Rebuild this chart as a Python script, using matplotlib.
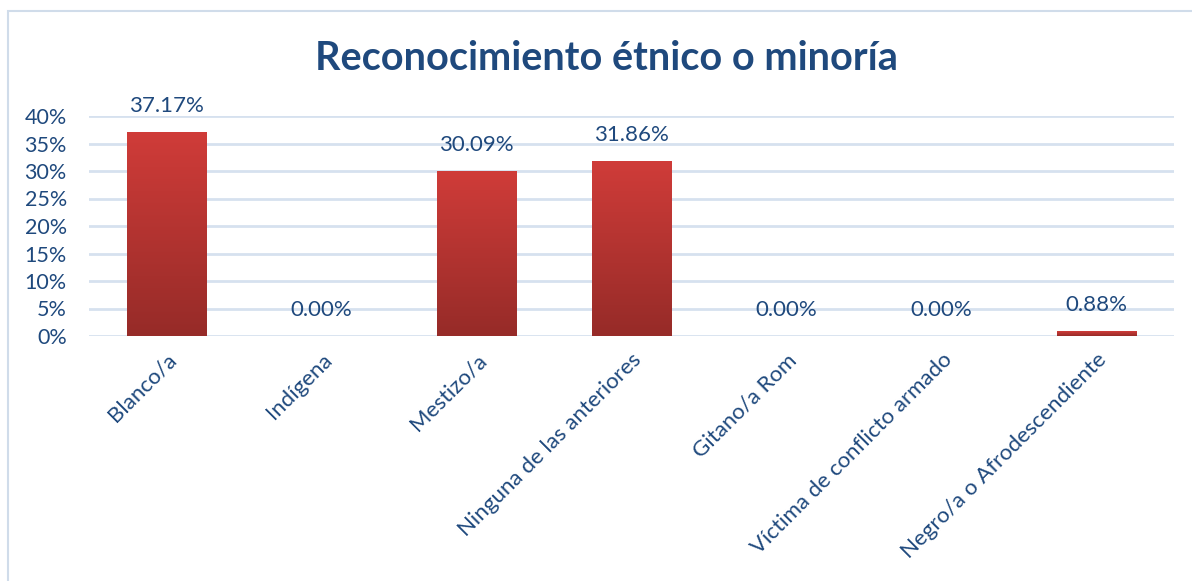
import numpy as np
import matplotlib
matplotlib.use("Agg")
import matplotlib.pyplot as plt
from matplotlib.patches import Rectangle
from matplotlib.ticker import PercentFormatter

categories = ["Blanco/a", "Indígena", "Mestizo/a", "Ninguna de las anteriores",
              "Gitano/a Rom", "Víctima de conflicto armado", "Negro/a o Afrodescendiente"]
values = [37.17, 0.00, 30.09, 31.86, 0.00, 0.00, 0.88]
yticks = [0, 5, 10, 15, 20, 25, 30, 35, 40]

text_col = "#1f497d"
grid_col = "#d6e1ef"

plt.rcParams['font.family'] = ['Lato', 'DejaVu Sans']

fig = plt.figure(figsize=(11.92, 5.81), dpi=100)
# chart frame
fig.patches.append(Rectangle((8 / 1192, -0.1), 1.1, 1 - 11 / 581 + 0.1, transform=fig.transFigure,
                             fill=False, edgecolor="#d0dcea", linewidth=1.5))

ax = fig.add_axes([89 / 1192, 1 - 336 / 581, (1174 - 89) / 1192, (336 - 116) / 581])
x = np.arange(len(categories))
bars = ax.bar(x, values, width=0.51, color="#c0392b", zorder=3)

# vertical gradient on each bar
grad = np.linspace(0, 1, 256).reshape(-1, 1)
cmap = matplotlib.colors.LinearSegmentedColormap.from_list("g", ["#962b28", "#d03c39"])
for b in bars:
    if b.get_height() <= 0:
        continue
    x0, y0 = b.get_x(), b.get_y()
    im = ax.imshow(grad, cmap=cmap, origin="lower", aspect="auto", zorder=4,
                   extent=[x0, x0 + b.get_width(), y0, y0 + b.get_height()])
    im.set_clip_path(b)

for xi, v in zip(x, values):
    ax.text(xi, v + 2.9, f"{v:.2f}%", ha="center", va="bottom", fontsize=16, color=text_col)

ax.set_xlim(-0.5, len(categories) - 0.5)
ax.set_ylim(0, 40)
ax.set_yticks(yticks)
ax.yaxis.set_major_formatter(PercentFormatter(100, decimals=0))
ax.grid(axis="y", color=grid_col, linewidth=2, zorder=0)
ax.set_xticks(x)
ax.set_xticklabels(categories, rotation=45, ha="right", rotation_mode="anchor",
                   fontsize=16, color=text_col)
ax.tick_params(axis="both", length=0, labelcolor=text_col)
ax.tick_params(axis="y", pad=16, labelsize=15.5)
ax.tick_params(axis="x", pad=10, labelsize=16)
for s in ax.spines.values():
    s.set_visible(False)

fig.text(0.5085, 1 - 59 / 581, "Reconocimiento étnico o minoría", ha="center", va="center",
         fontsize=28.5, fontweight="bold", color=text_col)

fig.savefig("out.png", dpi=100)
